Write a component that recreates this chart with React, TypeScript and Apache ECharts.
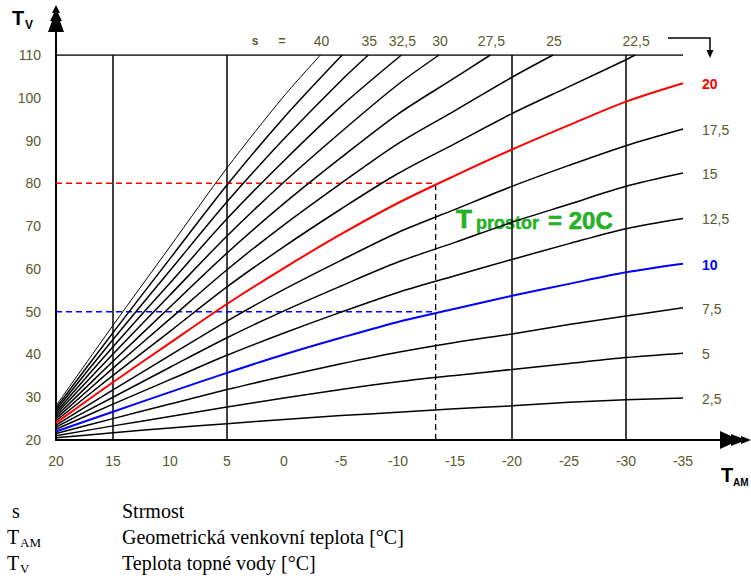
import React, { useEffect, useRef } from "react";
import * as echarts from "echarts";

// Outdoor temperature ticks (T_AM) at which curve values were read
const tamTicks = [20, 15, 10, 5, 0, -5, -10, -15, -20, -25, -30, -35];

// Steepness values of the heating curves
const steepness = [2.5, 5, 7.5, 10, 12.5, 15, 17.5, 20, 22.5, 25, 27.5, 30, 32.5, 35, 37.5, 40];
const curveLabels = ["2,5", "5", "7,5", "10", "12,5", "15", "17,5", "20", "22,5", "25", "27,5", "30", "32,5", "35", "", "40"];

// Flow temperature T_V read at tamTicks (curves stop where they reach 110)
const c2_5 = [20.5, 21.7, 22.8, 23.8, 24.8, 25.7, 26.5, 27.3, 28.0, 28.8, 29.4, 29.8];
const c5 = [21.0, 23.3, 25.5, 27.7, 29.8, 31.8, 33.6, 35.1, 36.5, 37.9, 39.3, 40.3];
const c7_5 = [21.5, 25.0, 28.4, 31.8, 34.9, 37.8, 40.5, 42.8, 44.8, 47.0, 49.0, 50.9];
const c10 = [22.0, 26.6, 31.2, 35.7, 40.0, 43.9, 47.6, 50.7, 53.7, 56.5, 59.2, 61.2];
const c12_5 = [22.5, 28.4, 34.1, 39.8, 45.0, 49.9, 54.5, 58.4, 62.2, 65.9, 69.4, 71.8];
const c15 = [23.0, 30.0, 37.0, 43.9, 50.2, 56.0, 61.6, 66.2, 70.9, 75.1, 79.3, 82.4];
const c17_5 = [23.5, 31.7, 39.8, 47.8, 55.2, 62.0, 68.5, 73.9, 79.3, 84.2, 88.8, 92.7];
const c20 = [24.0, 33.5, 42.7, 51.8, 60.2, 68.1, 75.4, 81.8, 87.9, 93.6, 99.1, 103.4];
const c22_5 = [24.5, 35.1, 45.4, 55.8, 65.2, 74.0, 82.3, 89.3, 96.3, 102.6, 108.9];
const c25 = [25.0, 36.8, 48.3, 59.8, 70.3, 80.0, 89.3, 97.0, 104.8];
const c27_5 = [25.5, 38.4, 51.1, 63.7, 75.3, 86.0, 96.2, 104.7];
const c30 = [26.0, 40.1, 53.9, 67.7, 80.3, 92.0, 103.1];
const c32_5 = [26.5, 41.8, 56.7, 71.7, 85.3, 98.0];
const c35 = [27.0, 43.5, 59.6, 75.7, 90.4, 104.0];
const c37_5 = [27.5, 45.1, 62.4, 79.6, 95.4];
const c40 = [28.0, 46.8, 65.2, 83.6, 100.4];
const curveValues = [c2_5, c5, c7_5, c10, c12_5, c15, c17_5, c20, c22_5, c25, c27_5, c30, c32_5, c35, c37_5, c40];

// T_AM where steep curves reach the top (T_V = 110), for s = 22.5 ... 40
const topHitTam = [-30.8, -23.6, -18.1, -13.6, -10.3, -7.4, -5.1, -3.2];

// Reference lines
const verticalGuides = [15, 5, -20, -30];
const helperTam = -13.3;
const helperRed = 80;
const helperBlue = 50;

const OLIVE = "#58582c";

export default function App() {
  const ref = useRef<HTMLDivElement>(null);

  useEffect(() => {
    document.body.style.margin = "0";
    const chart = echarts.init(ref.current!, null, { renderer: "svg" });

    const series: any[] = [];

    verticalGuides.forEach((t) => {
      series.push({
        type: "line",
        data: [[t, 20], [t, 110]],
        showSymbol: false,
        silent: true,
        lineStyle: { color: "#000", width: 1.5 },
      });
    });
    series.push({
      type: "line",
      data: [[20, 110], [-35, 110]],
      showSymbol: false,
      lineStyle: { color: "#000", width: 1.5 },
    });
    series.push({
      type: "line",
      data: [[helperTam, 20], [helperTam, helperRed]],
      showSymbol: false,
      lineStyle: { color: "#000", width: 1.3, type: [6, 4] },
    });
    series.push({
      type: "line",
      data: [[20, helperRed], [helperTam, helperRed]],
      showSymbol: false,
      lineStyle: { color: "#ff0000", width: 1.5, type: [6, 4] },
    });
    series.push({
      type: "line",
      data: [[20, helperBlue], [helperTam, helperBlue]],
      showSymbol: false,
      lineStyle: { color: "#0000ff", width: 1.5, type: [6, 4] },
    });

    const curveData: number[][][] = curveValues.map((vals, i) => {
      const pts = vals.map((v, j) => [tamTicks[j], v]);
      if (i >= 8) pts.push([topHitTam[i - 8], 110]);
      return pts;
    });

    curveData.forEach((pts, i) => {
      const s = steepness[i];
      const color = s === 20 ? "#ff0000" : s === 10 ? "#0000ff" : "#000";
      series.push({
        type: "line",
        data: pts,
        showSymbol: false,
        smooth: 0.3,
        lineStyle: { color, width: s === 20 || s === 10 ? 2 : s === 40 ? 1 : 1.5 },
        z: s === 20 || s === 10 ? 5 : 3,
      });
    });

    chart.setOption({
      animation: false,
      backgroundColor: "#fff",
      grid: { left: 56, right: 68, top: 55, bottom: 141 },
      xAxis: {
        type: "value",
        inverse: true,
        min: -35,
        max: 20,
        interval: 5,
        axisLine: { show: true, onZero: false, lineStyle: { color: "#000", width: 2 } },
        axisTick: { show: false },
        splitLine: { show: false },
        axisLabel: { color: OLIVE, fontSize: 14, fontFamily: "Arial", margin: 14 },
      },
      yAxis: {
        type: "value",
        min: 20,
        max: 110,
        interval: 10,
        axisLine: { show: true, onZero: false, lineStyle: { color: "#000", width: 2 } },
        axisTick: { show: false },
        splitLine: { show: false },
        axisLabel: { color: OLIVE, fontSize: 14, fontFamily: "Arial", margin: 15 },
      },
      series,
    });

    const graphics: any[] = [];
    const txt = (x: number, y: number, text: string, style: any) =>
      graphics.push({ type: "text", x, y, style: { text, fontFamily: "Arial", ...style } });

    // curve labels
    curveData.forEach((pts, i) => {
      const label = curveLabels[i];
      if (!label) return;
      const last = pts[pts.length - 1];
      const p = chart.convertToPixel({ gridIndex: 0 }, last) as number[];
      const s = steepness[i];
      const color = s === 20 ? "#ff0000" : s === 10 ? "#0000ff" : OLIVE;
      if (i < 8) {
        txt(p[0] + 19, p[1] + 1, label, { fill: color, fontSize: 14, verticalAlign: "middle", align: "left", fontWeight: s === 20 || s === 10 ? "bold" : "normal" });
      } else {
        txt(p[0] + 1, p[1] - 14, label, { fill: OLIVE, fontSize: 14, verticalAlign: "middle", align: "center" });
      }
    });

    // "s =" heading
    txt(255, 41, "s", { fill: OLIVE, fontSize: 12, fontWeight: "bold", verticalAlign: "middle", align: "center" });
    txt(282, 41, "=", { fill: OLIVE, fontSize: 12, fontWeight: "bold", verticalAlign: "middle", align: "center" });

    // small arrow top-right
    graphics.push({ type: "polyline", shape: { points: [[668, 38], [710, 38], [710, 52]] }, style: { stroke: "#000", lineWidth: 1.5, fill: "none" } });
    graphics.push({ type: "polygon", shape: { points: [[710, 58], [706.5, 50], [713.5, 50]] }, style: { fill: "#000" } });

    // Y axis arrow
    graphics.push({ type: "line", shape: { x1: 56, y1: 56, x2: 56, y2: 28 }, style: { stroke: "#000", lineWidth: 2 } });
    graphics.push({
      type: "polygon",
      shape: { points: [[56, 5], [52, 13], [54, 13], [50, 21], [52, 21], [48, 32], [64, 32], [60, 21], [62, 21], [58, 13], [60, 13]] },
      style: { fill: "#000" },
    });
    txt(12, 18, "T", { fill: "#000", fontSize: 20, fontWeight: "bold", verticalAlign: "middle" });
    txt(25, 25, "V", { fill: "#000", fontSize: 12, fontWeight: "bold", verticalAlign: "middle" });

    // X axis arrow
    graphics.push({ type: "line", shape: { x1: 682, y1: 440, x2: 722, y2: 440 }, style: { stroke: "#000", lineWidth: 2 } });
    graphics.push({
      type: "polygon",
      shape: { points: [[751, 440], [741, 436], [741, 438], [731, 434], [731, 436], [720, 431], [720, 449], [731, 444], [731, 446], [741, 442], [741, 444]] },
      style: { fill: "#000" },
    });
    txt(721, 475, "T", { fill: "#000", fontSize: 20, fontWeight: "bold", verticalAlign: "middle" });
    txt(733, 482, "AM", { fill: "#000", fontSize: 10, fontWeight: "bold", verticalAlign: "middle" });

    // green room temperature label
    const GREEN = "#22b422";
    txt(456, 232, "T", { fill: GREEN, fontSize: 26, fontWeight: "bold", verticalAlign: "bottom", stroke: "#137a13", lineWidth: 0.6 });
    txt(476, 232, "prostor", { fill: GREEN, fontSize: 18, fontWeight: "bold", verticalAlign: "bottom", stroke: "#137a13", lineWidth: 0.4 });
    txt(548, 232, "= 20C", { fill: GREEN, fontSize: 24, fontWeight: "bold", verticalAlign: "bottom", stroke: "#137a13", lineWidth: 0.5 });

    // legend below the chart
    const SERIF = "'Liberation Serif', 'Times New Roman', serif";
    const leg = (x: number, y: number, text: string, size: number) =>
      graphics.push({ type: "text", x, y, style: { text, fontFamily: SERIF, fontSize: size, fill: "#000", verticalAlign: "middle" } });
    leg(12, 511, "s", 20);
    leg(122, 511, "Strmost", 20);
    leg(7, 537, "T", 20);
    leg(20, 542, "AM", 13);
    leg(122, 537, "Geometrická venkovní teplota [°C]", 20);
    leg(7, 563, "T", 20);
    leg(20, 568, "V", 13);
    leg(122, 563, "Teplota topné vody [°C]", 20);

    chart.setOption({ graphic: graphics });

    return () => chart.dispose();
  }, []);

  return <div ref={ref} style={{ width: 751, height: 581 }} />;
}
